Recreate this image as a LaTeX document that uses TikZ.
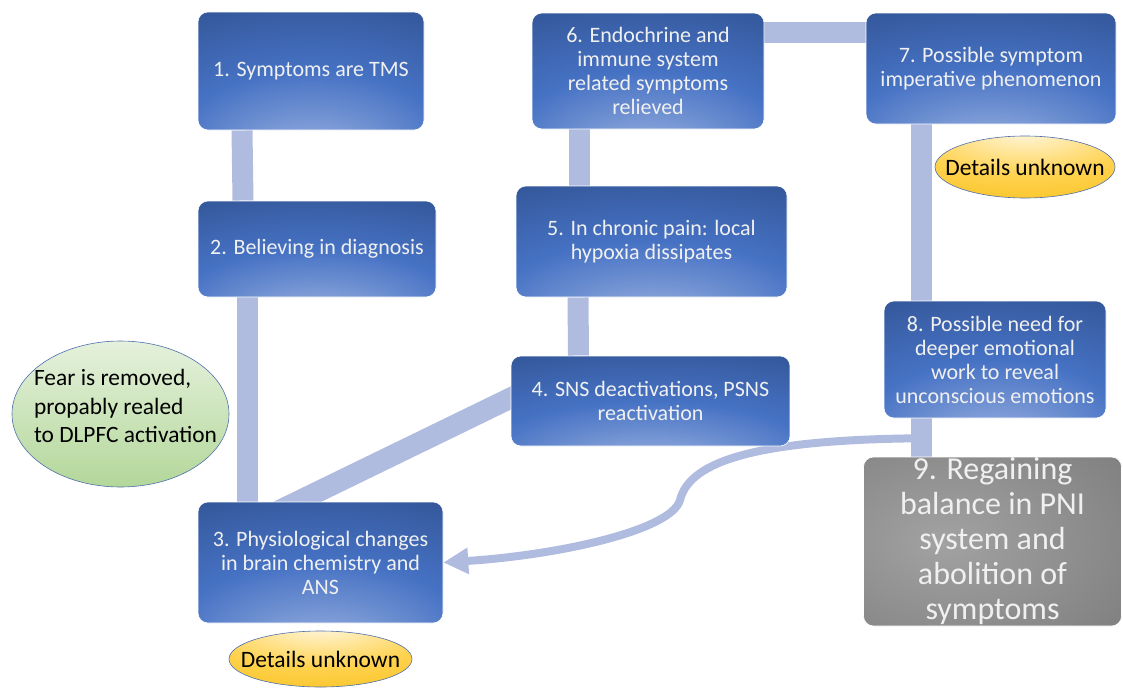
\documentclass[tikz,border=0pt]{standalone}
\usepackage{fontspec}
\setmainfont{Carlito}
\usetikzlibrary{arrows.meta,backgrounds,shapes.geometric}

\definecolor{boxdark}{HTML}{2B4A85}
\definecolor{boxmid}{HTML}{4672C4}
\definecolor{boxlight}{HTML}{A3B7E2}
\definecolor{barblue}{HTML}{B0BCDF}
\definecolor{graydark}{HTML}{686868}
\definecolor{graylight}{HTML}{A2A2A2}
\definecolor{goldedge}{HTML}{F5B800}
\definecolor{goldmid}{HTML}{FFD24F}
\definecolor{goldlight}{HTML}{FFF8E2}
\definecolor{greenlight}{HTML}{E5F1DC}
\definecolor{greendark}{HTML}{B3D79A}
\definecolor{outline}{HTML}{4F6FAD}

\pgfdeclareradialshading{boxshade}{\pgfpoint{0bp}{-40bp}}{color(0bp)=(boxlight); color(30bp)=(boxmid); color(65bp)=(boxdark); color(120bp)=(boxdark)}
\pgfdeclareradialshading{grayshade}{\pgfpoint{-10bp}{0bp}}{color(0bp)=(graylight); color(70bp)=(graydark); color(120bp)=(graydark)}
\pgfdeclareradialshading{goldshade}{\pgfpoint{0bp}{30bp}}{color(0bp)=(goldlight); color(30bp)=(goldmid); color(70bp)=(goldedge); color(130bp)=(goldedge)}

\begin{document}
\begin{tikzpicture}[
        x=1pt, y=-1pt,
        stage/.style={rectangle, rounded corners=10pt, shading=boxshade, draw=white, line width=0.6pt, text=white!94!black, align=center, inner sep=0pt, font=\fontsize{22}{24}\selectfont},
        final/.style={stage, shading=grayshade, font=\fontsize{32}{35}\selectfont},
        unknown/.style={ellipse, shading=goldshade, draw=outline, line width=0.6pt, inner xsep=-20pt, inner ysep=-5pt, font=\fontsize{23.5}{26}\selectfont},
        fear/.style={ellipse, top color=greenlight, bottom color=greendark, draw=outline, line width=0.6pt, inner sep=0pt},
        bar/.style={draw=barblue, line width=21pt},
        loopback/.style={draw=barblue, line width=8pt, -{Triangle[length=25pt, width=25pt]}}
    ]
    \useasboundingbox (0,0) rectangle (1123,688);

    \node[stage, minimum width=226pt, minimum height=118pt] (S1) at (311,71) {1. Symptoms are TMS};
    \node[stage, minimum width=238pt, minimum height=96pt] (S2) at (317,249) {2. Believing in diagnosis};
    \node[stage, minimum width=245pt, minimum height=121pt] (S3) at (320.5,562.5) {3. Physiological changes\\in brain chemistry and\\ANS};
    \node[stage, minimum width=279pt, minimum height=90pt] (S4) at (650.5,401) {4. SNS deactivations, PSNS\\reactivation};
    \node[stage, minimum width=271pt, minimum height=111pt] (S5) at (651.5,241.5) {5. In chronic pain: local\\hypoxia dissipates};
    \node[stage, minimum width=232pt, minimum height=116pt] (S6) at (648,71) {6. Endochrine and\\immune system\\related symptoms\\relieved};
    \node[stage, minimum width=250pt, minimum height=111pt] (S7) at (991,68.5) {7. Possible symptom\\imperative phenomenon};
    \node[stage, minimum width=222pt, minimum height=117pt] (S8) at (995,359.5) {8. Possible need for\\deeper emotional\\work to reveal\\unconscious emotions};
    \node[final, minimum width=258pt, minimum height=169pt] (S9) at (992.5,541.5) {9. Regaining\\balance in PNI\\system and\\abolition of\\symptoms};

    \node[unknown, minimum width=180pt, minimum height=62pt] (D7) at (1025,167) {Details unknown};
    \node[unknown, minimum width=183pt, minimum height=56pt] (D3) at (320.5,659) {Details unknown};
    \node[fear, minimum width=217pt, minimum height=146pt,
          label={[font=\fontsize{23.4}{28.5}\selectfont, align=left, xshift=5pt, yshift=8pt]center:{Fear is removed,\\propably realed\\to DLPFC activation}}] (F) at (120.5,414) {};

    \coordinate (src) at ([xshift=-78pt, yshift=-20pt]S8.south);

    \begin{scope}[on background layer]
    \draw[bar] ([xshift=-69pt]S1.south) -- ([xshift=-74pt]S2.north);
    \draw[bar] ([xshift=-70pt]S2.south) -- ([xshift=-73.5pt]S3.north);
    \draw[bar, shorten <=-25pt, shorten >=-25pt] ([xshift=-23pt]S3.north) -- ([yshift=3pt]S4.west);
    \draw[bar] ([xshift=-72pt]S4.north) -- ([xshift=-73.5pt]S5.south);
    \draw[bar] ([xshift=-72.5pt]S5.north) -- ([xshift=-69pt]S6.south);
    \draw[bar] ([yshift=39pt]S6.east) -- ([yshift=36.5pt]S7.west);
    \draw[bar] ([xshift=-70pt]S7.south) -- ([xshift=-74pt]S8.north);
    \draw[bar] ([xshift=-74pt]S8.south) -- ([xshift=-71.5pt]S9.north);
    \draw[loopback] (src) .. controls (760,440) and (690,460) .. (680,500)
        .. controls (672,530) and (560,555) .. (S3.east);
    \end{scope}
\end{tikzpicture}
\end{document}
